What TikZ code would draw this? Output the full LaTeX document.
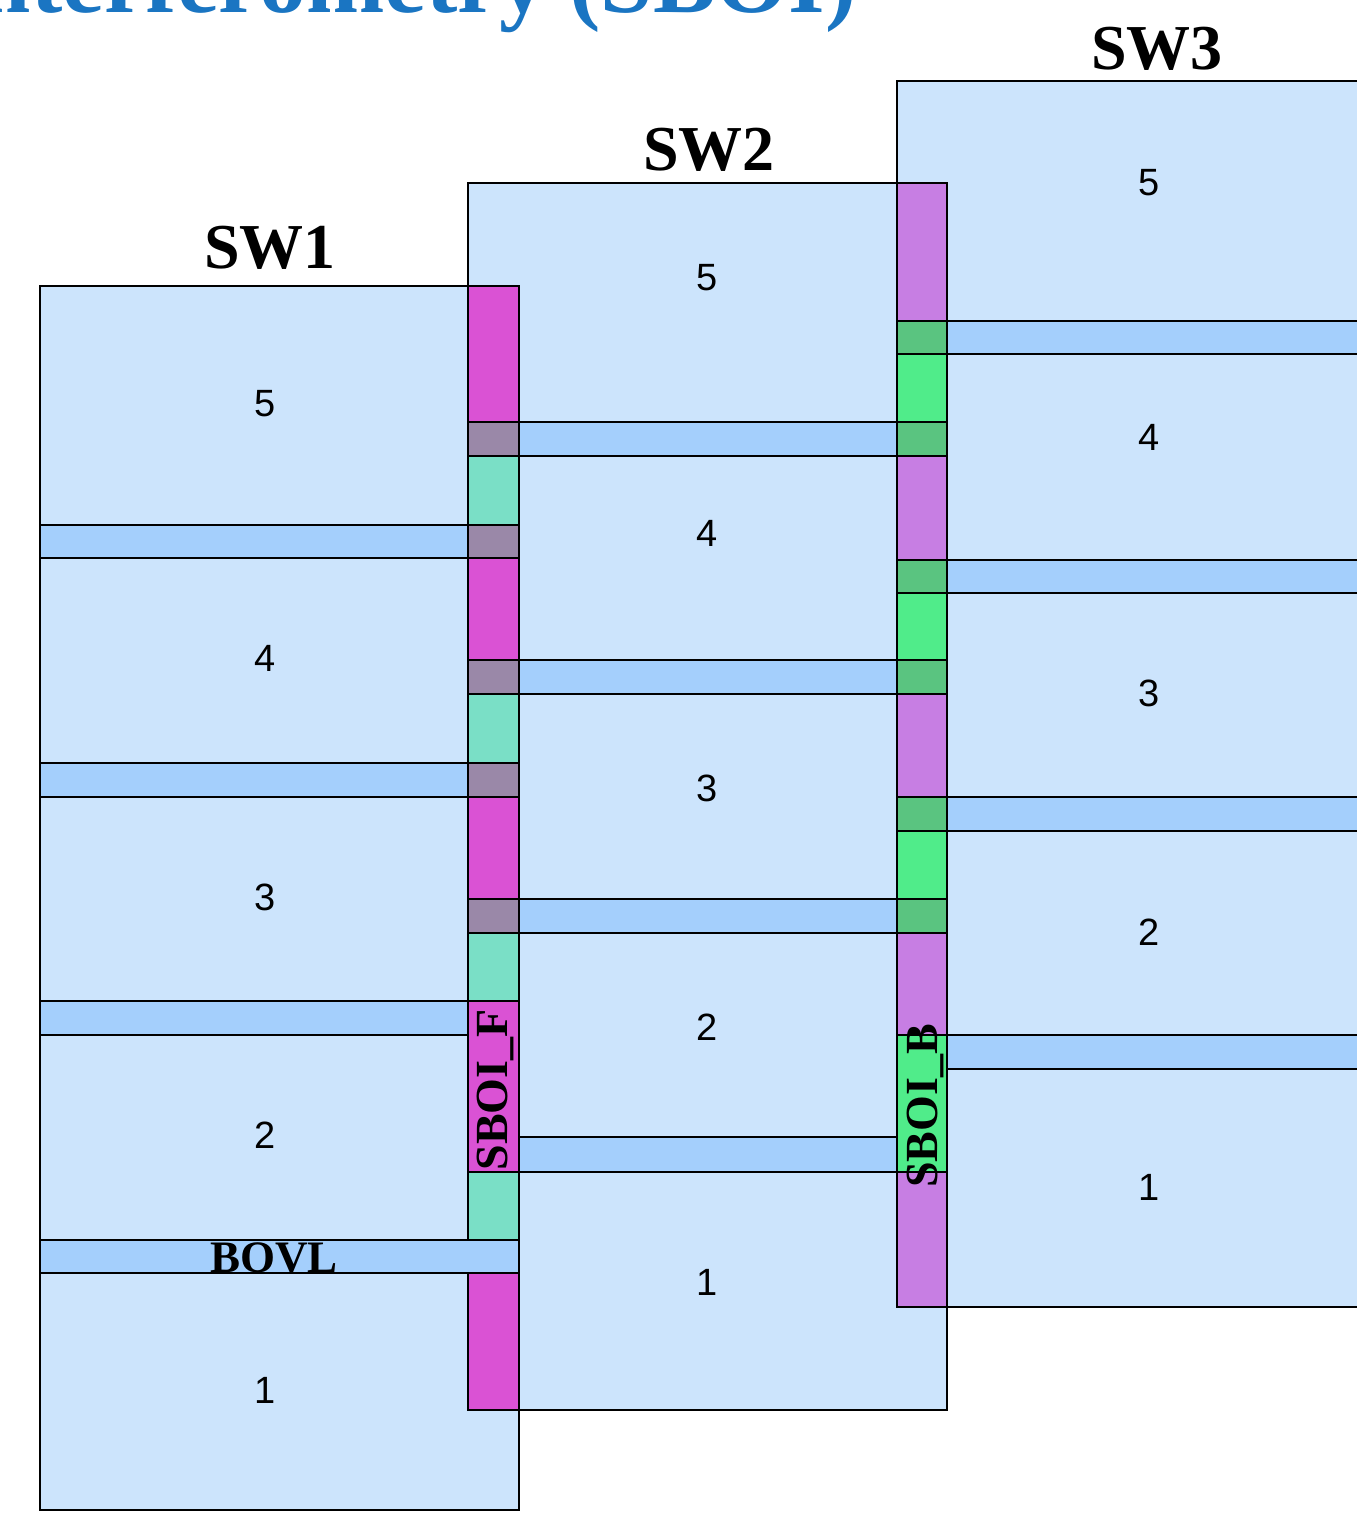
\documentclass[tikz,border=0pt]{standalone}
\usepackage{fontspec}
\setmainfont{Liberation Serif}
\newfontfamily\digitfont{Liberation Sans}

% colours of the swaths, bursts and overlap regions
\definecolor{swfill}{RGB}{204,228,252}
\definecolor{bandfill}{RGB}{164,207,252}
\definecolor{sbmag}{RGB}{218,82,212}
\definecolor{sbgray}{RGB}{154,136,168}
\definecolor{sbteal}{RGB}{122,223,198}
\definecolor{sbviol}{RGB}{199,126,227}
\definecolor{sbdg}{RGB}{90,196,128}
\definecolor{sbbg}{RGB}{80,236,138}
\definecolor{titleblue}{RGB}{26,117,194}

\begin{document}
\begin{tikzpicture}[x=1pt,y=-1pt,
  swbox/.style={fill=swfill,draw=black,line width=2.9pt},
  band/.style={fill=bandfill,draw=black,line width=2.9pt},
  seg/.style={draw=black,line width=2.9pt},
  burstnum/.style={font=\digitfont\fontsize{38}{38}\selectfont,inner sep=0pt},
  swtitle/.style={font=\bfseries\fontsize{64}{64}\selectfont,anchor=base,inner sep=0pt},
  sboi/.style={font=\bfseries\fontsize{46}{46}\selectfont,rotate=90,anchor=base,inner sep=0pt},
  headline/.style={font=\bfseries\fontsize{94}{94}\selectfont,text=titleblue,anchor=base east,inner sep=0pt}]
\useasboundingbox (0,0) rectangle (1357,1518);
\clip (0,0) rectangle (1357,1518);

% page heading
\node[headline] (heading) at (857,12) {Interferometry (SBOI)};

% sub-swath 3
\draw[swbox] (897,81) rectangle (1420,1307);
\foreach \a/\b in {321/354,560/593,797/831,1035/1069}
  \draw[band] (897,\a) rectangle (1420,\b);

% sub-swath 2
\draw[swbox] (468,183) rectangle (947,1410);
\foreach \a/\b in {422/456,660/694,899/933,1137/1172}
  \draw[band] (468,\a) rectangle (947,\b);
% overlap strip between sub-swaths 2 and 3
\foreach \a/\b/\c in {183/321/sbviol,321/354/sbdg,354/422/sbbg,422/456/sbdg,
    456/560/sbviol,560/593/sbdg,593/660/sbbg,660/694/sbdg,694/797/sbviol,
    797/831/sbdg,831/899/sbbg,899/933/sbdg,933/1035/sbviol,1035/1172/sbbg,
    1172/1307/sbviol}
  \draw[seg,fill=\c] (897,\a) rectangle (947,\b);

% sub-swath 1
\draw[swbox] (40,286) rectangle (519,1510);
\foreach \a/\b in {525/558,763/797,1001/1035}
  \draw[band] (40,\a) rectangle (519,\b);
% overlap strip between sub-swaths 1 and 2
\foreach \a/\b/\c in {286/422/sbmag,422/456/sbgray,456/525/sbteal,525/558/sbgray,
    558/660/sbmag,660/694/sbgray,694/763/sbteal,763/797/sbgray,797/899/sbmag,
    899/933/sbgray,933/1001/sbteal,1001/1172/sbmag,1172/1240/sbteal,
    1273/1410/sbmag}
  \draw[seg,fill=\c] (468,\a) rectangle (519,\b);
% burst overlap band
\draw[band] (40,1240) rectangle (519,1273);

% sub-swath titles
\node[swtitle] (sw1) at (270,268) {SW1};
\node[swtitle] (sw2) at (709,170) {SW2};
\node[swtitle] (sw3) at (1157,69) {SW3};

% burst numbers
\foreach \n/\y in {5/404,4/658,3/897,2/1135,1/1390}
  \node[burstnum] (swa\n) at (265,\y) {\n};
\foreach \n/\y in {5/278,4/533,3/788,2/1027,1/1282}
  \node[burstnum] (swb\n) at (707,\y) {\n};
\foreach \n/\y in {5/183,4/437,3/693,2/932,1/1187}
  \node[burstnum] (swc\n) at (1149,\y) {\n};

% region labels
\node[font=\bfseries\fontsize{45}{45}\selectfont,anchor=base,inner sep=0pt] (bovl) at (274,1272) {BOVL};
\node[sboi] (sboif) at (507,1090) {SBOI\_F};
\node[sboi] (sboib) at (937,1106) {SBOI\_B};
\end{tikzpicture}
\end{document}
